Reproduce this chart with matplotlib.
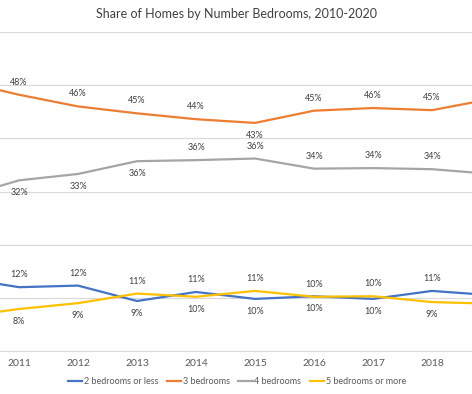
import matplotlib
matplotlib.use("Agg")
import matplotlib.pyplot as plt

years = [2010, 2011, 2012, 2013, 2014, 2015, 2016, 2017, 2018, 2019, 2020]
two_or_less = [13.8, 12.0, 12.3, 9.4, 11.1, 9.8, 10.3, 9.8, 11.3, 10.5, 10.3]
three_bed = [50.8, 48.2, 46.0, 44.7, 43.6, 42.9, 45.2, 45.7, 45.3, 47.4, 47.0]
four_bed = [28.8, 32.1, 33.3, 35.7, 35.9, 36.2, 34.3, 34.4, 34.2, 33.3, 33.0]
five_plus = [6.4, 7.9, 9.0, 10.8, 10.2, 11.3, 10.2, 10.3, 9.2, 8.9, 9.0]
series_names = ["2 bedrooms or less", "3 bedrooms", "4 bedrooms", "5 bedrooms or more"]

colors = ["#4472C4", "#ED7D31", "#A5A5A5", "#FFC000"]
# +1 label above the point, -1 below (only the years that show in the crop)
label_side = [
    [1, 1, -1, 1, -1, -1, -1, 1],
    [1, 1, 1, 1, -1, 1, 1, 1],
    [-1, -1, -1, 1, 1, 1, 1, 1],
    [-1, -1, 1, -1, 1, 1, 1, -1],
]

plt.rcParams['font.family'] = ['Lato', 'DejaVu Sans']

W, H = 472, 394
fig = plt.figure(figsize=(W / 100, H / 100), dpi=100)
# the reference is a crop of a wider chart, so the axes run past the edges
x0 = 19 - 1.5 * 59
ax = fig.add_axes([x0 / W, (H - 351) / H, 11 * 59 / W, 319 / H])

all_series = [two_or_less, three_bed, four_bed, five_plus]
for vals, name, col, sides in zip(all_series, series_names, colors, label_side):
    ax.plot(years, vals, color=col, lw=1.6, label=name, solid_joinstyle="round")
    for yr, v, s in zip(years[1:9], vals[1:9], sides):
        ax.annotate(f"{round(v)}%", (yr, v), xytext=(0, 9 * s), textcoords="offset points",
                    ha="center", va="center", fontsize=6.5, color="#404040")

ax.set_xlim(2009.5, 2020.5)
ax.set_ylim(0, 60)
# only the years inside the cropped view get a label
shown = years[1:9]
ax.set_xticks(shown)
ax.set_xticklabels([str(y) for y in shown])
ax.set_yticks(range(0, 61, 10))
ax.set_yticklabels([])
ax.grid(axis="y", color="#D9D9D9", lw=0.8)
ax.set_axisbelow(True)
for side in ["top", "left", "right"]:
    ax.spines[side].set_visible(False)
ax.spines["bottom"].set_color("#D9D9D9")
ax.tick_params(length=0, pad=6, labelsize=7.5, colors="#595959")

fig.text(236 / W, 1 - 14 / H, "Share of Homes by Number Bedrooms, 2010-2020",
         ha="center", va="center", fontsize=9, color="#404040")

fig.legend(loc="center", bbox_to_anchor=(237 / W, 1 - 382 / H), ncol=4, frameon=False,
           fontsize=6.5, handlelength=1.6, columnspacing=0.9, handletextpad=0.2,
           labelcolor="#595959")

fig.savefig("out.png", dpi=100)
